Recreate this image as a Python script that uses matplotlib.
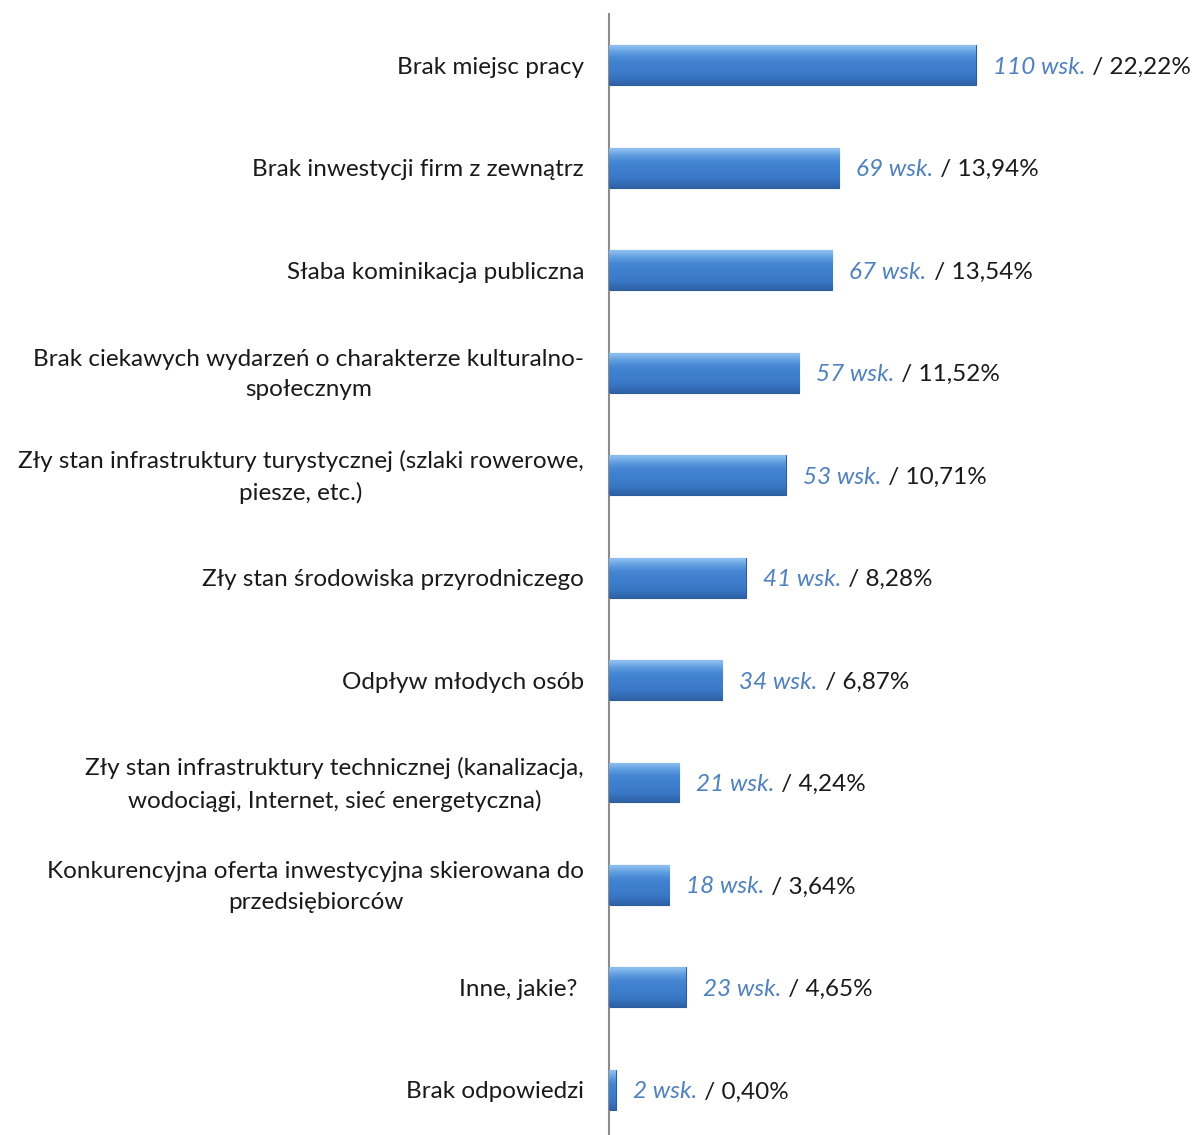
import matplotlib.pyplot as plt
import numpy as np
from matplotlib.colors import LinearSegmentedColormap

categories = [
    "Brak miejsc pracy",
    "Brak inwestycji firm z zewnątrz",
    "Słaba kominikacja publiczna",
    "Brak ciekawych wydarzeń o charakterze kulturalno-\nspołecznym",
    "Zły stan infrastruktury turystycznej (szlaki rowerowe,\npiesze, etc.)",
    "Zły stan środowiska przyrodniczego",
    "Odpływ młodych osób",
    "Zły stan infrastruktury technicznej (kanalizacja,\nwodociągi, Internet, sieć energetyczna)",
    "Konkurencyjna oferta inwestycyjna skierowana do\nprzedsiębiorców",
    "Inne, jakie? ",
    "Brak odpowiedzi",
]
counts = [110, 69, 67, 57, 53, 41, 34, 21, 18, 23, 2]
percents = ["22,22%", "13,94%", "13,54%", "11,52%", "10,71%", "8,28%",
            "6,87%", "4,24%", "3,64%", "4,65%", "0,40%"]

plt.rcParams['font.family'] = ['Lato', 'DejaVu Sans']

fig = plt.figure(figsize=(11.92, 11.35), dpi=100)
ax = fig.add_axes([609 / 1192, 0, 583 / 1192, 1 - 14 / 1135])

y = np.arange(len(categories))
bars = ax.barh(y, counts, height=0.39, color='#3B77C4', edgecolor='#2B5C99', linewidth=0.8, zorder=2)

# vertical gradient on each bar to mimic the bevelled look
grad = np.linspace(0, 1, 20).reshape(-1, 1)
cmap = LinearSegmentedColormap.from_list('bev', ['#2F63A8', '#3874C0', '#3D7CCA', '#3F80CE', '#4686D3', '#5E9DE0', '#8DBFF0'])
for b in bars:
    x0, y0 = b.get_x(), b.get_y()
    w, h = b.get_width(), b.get_height()
    im = ax.imshow(grad, extent=[x0, x0 + w, y0 + h, y0], cmap=cmap, aspect='auto',
                   origin='lower', zorder=3, interpolation='bicubic')
    im.set_clip_path(b)

ax.set_xlim(0, 174.8)
ax.set_ylim(10.44, -0.5)

for s in ['top', 'right', 'bottom']:
    ax.spines[s].set_visible(False)
ax.spines['left'].set_color('#8C8C8C')
ax.spines['left'].set_linewidth(1.5)
ax.set_xticks([])
ax.set_yticks([])

for yi, cat in zip(y, categories):
    ax.annotate(cat, (0, yi), xytext=(-25, -2), textcoords='offset pixels',
                ha='right', va='center', multialignment='center', fontsize=17.5,
                color='#1a1a1a', linespacing=1.56)

fig.canvas.draw()
renderer = fig.canvas.get_renderer()
for yi, c, p in zip(y, counts, percents):
    t1 = ax.annotate(f"{c} wsk.", (c, yi), xytext=(17, -2), textcoords='offset pixels',
                     ha='left', va='center', fontsize=17.5, style='italic', color='#4F81BD')
    bb = t1.get_window_extent(renderer)
    ax.annotate(f" / {p}", (c, yi), xytext=(17 + bb.width + 1, -2), textcoords='offset pixels',
                ha='left', va='center', fontsize=17.5, color='#1a1a1a')

fig.savefig('out.png', dpi=100)
